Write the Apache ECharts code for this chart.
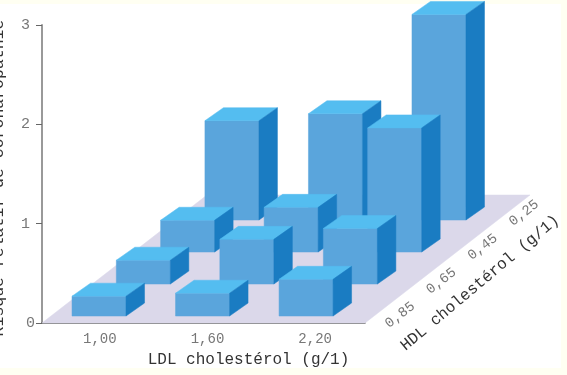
<!DOCTYPE html>
<html><head><meta charset="utf-8">
<style>html,body{margin:0;padding:0;background:#fffff2}#c{width:567px;height:375px}</style>
<script src="https://cdn.jsdelivr.net/npm/echarts@6/dist/echarts.min.js"></script></head>
<body><div id="c"></div>
<script>
const ldlLabels = ['1,00','1,60','2,20'];
const hdlLabels = ['0,85','0,65','0,45','0,25'];
const yTicks = [0,1,2,3];
const hdl085 = [0.20,0.23,0.37];
const hdl065 = [0.24,0.45,0.56];
const hdl045 = [0.32,0.45,1.25];
const hdl025 = [1.00,1.07,2.07];
const rows = [hdl085,hdl065,hdl045,hdl025];

const DEPTH = {dx:44.3, dy:-32};   // per HDL row
const BAR = {w:54, dx:18.5, dy:-13, base:0.07};
const FLOOR = {dx:165, dy:-128};

const barData = [];
for (let r=rows.length-1;r>=0;r--) rows[r].forEach((v,c)=>barData.push([c,r,v]));

function poly(points,fill){return {type:'polygon',shape:{points},style:{fill,stroke:fill,lineWidth:0.5}};}

const chart = echarts.init(document.getElementById('c'),null,{renderer:'canvas'});
chart.setOption({
  animation:false,
  backgroundColor:'transparent',
  graphic:[{type:'rect',z:-10,silent:true,shape:{x:0,y:4,width:561,height:364},style:{fill:'#ffffff'}}],
  grid:{left:42,width:323,top:25,height:298,containLabel:false,outerBoundsMode:'none'},
  xAxis:[
    {type:'category',data:ldlLabels,position:'bottom',boundaryGap:true,
     axisLine:{show:true,onZero:false,lineStyle:{color:'#555',width:1.5}},axisTick:{show:false},
     axisLabel:{show:true,interval:0,margin:9,color:'#777',fontFamily:'Liberation Mono',fontSize:14,padding:[0,0,0,8]},
     name:'LDL cholestérol (g/1)',nameLocation:'middle',nameGap:29,
     nameTextStyle:{color:'#333',fontFamily:'Liberation Mono',fontSize:16,padding:[0,0,0,90]},
     splitLine:{show:false}},
    {type:'value',min:-0.29,max:2.83,show:false}
  ],
  yAxis:[{type:'value',min:0,max:3,interval:1,position:'left',
     axisLine:{show:true,onZero:false,lineStyle:{color:'#999',width:2}},
     axisTick:{show:true,length:6,lineStyle:{color:'#666'}},
     axisLabel:{margin:7,
       formatter:v=>yTicks.includes(v)?(v===0?'{z|0}':'{n|'+v+'}'):'',
       rich:{
         z:{color:'#777',fontFamily:'Liberation Mono',fontSize:15},
         n:{color:'#777',fontFamily:'Liberation Mono',fontSize:15,padding:[0,5,0,0]}
       }},
     splitLine:{show:false},
     name:'Risque relatif de coronaropathie',nameLocation:'middle',nameGap:35,nameRotate:90,
     nameTextStyle:{color:'#333',fontFamily:'Liberation Mono',fontSize:16.5,padding:[0,8,0,0]}}],
  series:[
    {type:'custom',xAxisIndex:0,yAxisIndex:0,silent:true,z:1,clip:false,data:[0],
     renderItem(p,api){
       const s=p.coordSys;
       const bl=[s.x,s.y+s.height], br=[s.x+s.width,s.y+s.height];
       return {type:'group',children:[
         poly([bl,br,[br[0]+FLOOR.dx,br[1]+FLOOR.dy],[bl[0]+FLOOR.dx,bl[1]+FLOOR.dy]],'#dbd8ea')
       ]};
     }},
    {type:'custom',xAxisIndex:1,yAxisIndex:0,silent:true,z:2,clip:false,
     data:barData,encode:{x:0,y:2},
     renderItem(p,api){
       const c=api.value(0), r=api.value(1), v=api.value(2);
       const off=[r*DEPTH.dx,r*DEPTH.dy];
       const b=api.coord([c,BAR.base]), t=api.coord([c,BAR.base+v]);
       const x0=b[0]+off[0], x1=x0+BAR.w, yb=b[1]+off[1], yt=t[1]+off[1];
       const d=BAR.dx, e=BAR.dy;
       return {type:'group',children:[
         poly([[x0,yb],[x1,yb],[x1,yt],[x0,yt]],'#5aa5dc'),
         poly([[x0,yt],[x1,yt],[x1+d,yt+e],[x0+d,yt+e]],'#54bdf0'),
         poly([[x1,yb],[x1+d,yb+e],[x1+d,yt+e],[x1,yt]],'#1a7cc2')
       ]};
     }},
    {type:'custom',xAxisIndex:0,yAxisIndex:0,silent:true,z:3,clip:false,
     data:hdlLabels.map((l,i)=>[i,l]),
     renderItem(p,api){
       const s=p.coordSys, i=api.value(0);
       return {type:'text',x:s.x+s.width+35+i*41.3,y:s.y+s.height-8-i*34,rotation:38*Math.PI/180,
         originX:0,originY:0,
         style:{text:hdlLabels[i],fill:'#777',font:'14px "Liberation Mono"',align:'center',verticalAlign:'middle'}};
     }},
    {type:'custom',xAxisIndex:0,yAxisIndex:0,silent:true,z:3,clip:false,data:[0],
     renderItem(p,api){
       const s=p.coordSys;
       return {type:'text',x:s.x+s.width+115,y:s.y+s.height-40,rotation:40*Math.PI/180,
         style:{text:'HDL cholestérol (g/1)',fill:'#333',font:'16px "Liberation Mono"',align:'center',verticalAlign:'middle'}};
     }}
  ]
});
</script></body></html>
